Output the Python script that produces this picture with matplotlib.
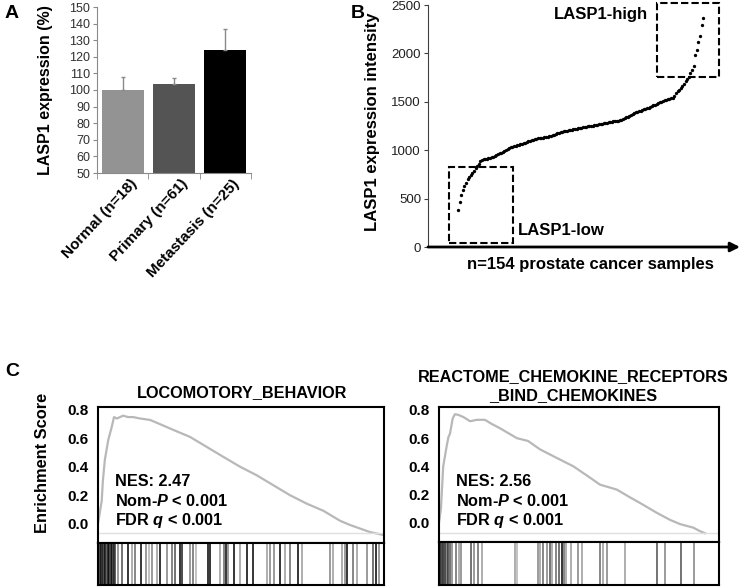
import matplotlib
matplotlib.use('Agg')
import numpy as np
import matplotlib.pyplot as plt
from matplotlib.patches import Rectangle
from matplotlib.transforms import ScaledTranslation

plt.rcParams['font.family'] = ['Liberation Sans', 'DejaVu Sans']
plt.rcParams['mathtext.fontset'] = 'custom'
plt.rcParams['mathtext.it'] = 'Liberation Sans:italic:bold'
plt.rcParams['mathtext.rm'] = 'Liberation Sans:bold'
plt.rcParams['mathtext.bf'] = 'Liberation Sans:bold'

# ---------------- data ----------------
a_labels = ['Normal (n=18)', 'Primary (n=61)', 'Metastasis (n=25)']
a_values = [100, 103.5, 124]
a_err = [8, 4, 12.5]
a_colors = ['#939393', '#545454', '#000000']

b_values = [382, 462, 540, 590, 630, 665, 700, 725, 748, 768, 790, 815, 840, 860, 885, 900,
            905, 910, 913, 918, 922, 926, 930,
            938, 948, 958, 966, 975, 985, 995, 1005, 1015, 1025, 1033,
            1038, 1043, 1048, 1053, 1058, 1063, 1068, 1073, 1079, 1085,
            1090, 1096, 1101, 1107, 1113, 1119,
            1122, 1125, 1127, 1130, 1132, 1134, 1137,
            1143, 1150, 1156, 1162, 1168, 1175, 1181, 1188,
            1191, 1195, 1198, 1202, 1205, 1208, 1212, 1215, 1219, 1222,
            1225, 1228, 1232, 1235, 1238, 1242, 1245, 1248, 1251, 1254, 1257,
            1260, 1264, 1267, 1271, 1274, 1277, 1281, 1284, 1288, 1291,
            1294, 1297, 1300, 1303, 1306, 1309,
            1317, 1325, 1333, 1341, 1348,
            1356, 1365, 1374, 1382, 1390, 1398,
            1404, 1410, 1417, 1423, 1429, 1435, 1441, 1447,
            1455, 1463, 1471, 1479, 1487, 1495, 1502,
            1508, 1514, 1520, 1525, 1530, 1535, 1540,
            1565, 1590, 1610, 1625, 1640,
            1660, 1685, 1710, 1735, 1760,
            1795, 1830, 1865,
            1985, 2040, 2120, 2175, 2295, 2362]
b_low_box = (-4.9, 38, 40.3, 792)      # x, y, width, height (sample index, intensity)
b_high_box = (124.9, 1759, 39.0, 765)

es1_x = [0.0, 0.013, 0.017, 0.024, 0.036, 0.048, 0.056, 0.066, 0.077, 0.088, 0.105, 0.123,
         0.147, 0.182, 0.217, 0.263, 0.322, 0.380, 0.438, 0.497, 0.555, 0.613, 0.671, 0.730,
         0.788, 0.846, 0.881, 0.916, 0.951, 0.997]
es1_y = [0.0, 0.16, 0.30, 0.45, 0.59, 0.68, 0.75, 0.74, 0.75, 0.76, 0.75, 0.75,
         0.74, 0.73, 0.70, 0.66, 0.61, 0.54, 0.47, 0.40, 0.34, 0.27, 0.20, 0.14,
         0.09, 0.02, -0.01, -0.035, -0.06, -0.08]
hits1 = [0.003, 0.007, 0.010, 0.014, 0.017, 0.021, 0.024, 0.028, 0.031, 0.035, 0.038, 0.042,
         0.045, 0.049, 0.052, 0.056, 0.059, 0.070, 0.084, 0.105, 0.119, 0.129, 0.152, 0.168,
         0.178, 0.189, 0.206, 0.217, 0.240, 0.257, 0.269, 0.287, 0.295, 0.322, 0.332, 0.344,
         0.386, 0.392, 0.427, 0.439, 0.448, 0.456, 0.474, 0.497, 0.521, 0.542, 0.591, 0.601,
         0.614, 0.636, 0.654, 0.671, 0.698, 0.713, 0.811, 0.822, 0.853, 0.864, 0.872, 0.893,
         0.906, 0.941, 0.962, 0.972, 0.983]
shades1 = [0.1, 0.3, 0.0, 0.2, 0.1, 0.3, 0.0, 0.2, 0.4, 0.1, 0.0, 0.3,
           0.2, 0.0, 0.3, 0.1, 0.2, 0.5, 0.3, 0.0, 0.6, 0.4, 0.0, 0.5,
           0.7, 0.5, 0.6, 0.0, 0.5, 0.4, 0.3, 0.0, 0.1, 0.5, 0.4, 0.7,
           0.0, 0.0, 0.6, 0.4, 0.0, 0.5, 0.0, 0.6, 0.0, 0.0, 0.6, 0.5,
           0.5, 0.0, 0.6, 0.4, 0.0, 0.6, 0.5, 0.6, 0.6, 0.5, 0.0, 0.4,
           0.6, 0.5, 0.3, 0.0, 0.5]

es2_x = [0.0, 0.007, 0.015, 0.028, 0.034, 0.039, 0.049, 0.057, 0.069, 0.087, 0.111, 0.135,
         0.164, 0.189, 0.218, 0.278, 0.318, 0.361, 0.420, 0.480, 0.539, 0.575, 0.635, 0.682,
         0.718, 0.778, 0.825, 0.861, 0.908, 0.932, 0.950]
es2_y = [0.0, 0.10, 0.40, 0.55, 0.61, 0.63, 0.74, 0.77, 0.765, 0.75, 0.72, 0.73,
         0.73, 0.70, 0.67, 0.60, 0.58, 0.52, 0.46, 0.40, 0.32, 0.27, 0.235, 0.18,
         0.14, 0.07, 0.02, -0.01, -0.035, -0.06, -0.075]
hits2 = [0.005, 0.009, 0.013, 0.016, 0.021, 0.027, 0.032, 0.039, 0.048, 0.061, 0.070, 0.079,
         0.116, 0.125, 0.139, 0.154, 0.270, 0.280, 0.352, 0.361, 0.371, 0.384, 0.395, 0.405,
         0.418, 0.430, 0.438, 0.448, 0.455, 0.471, 0.495, 0.511, 0.575, 0.586, 0.600, 0.663,
         0.779, 0.807, 0.863, 0.911]
shades2 = [0.0, 0.1, 0.0, 0.3, 0.1, 0.4, 0.2, 0.3, 0.5, 0.4, 0.6, 0.5,
           0.3, 0.5, 0.4, 0.6, 0.6, 0.7, 0.5, 0.6, 0.4, 0.5, 0.3, 0.6,
           0.4, 0.3, 0.0, 0.4, 0.6, 0.6, 0.5, 0.6, 0.4, 0.6, 0.5, 0.6,
           0.3, 0.5, 0.3, 0.5]

es_ticks = [0.0, 0.2, 0.4, 0.6, 0.8]
es_ticklabels = ['0.0', '0.2', '0.4', '0.6', '0.8']

# ---------------- figure ----------------
W, H = 742, 587
fig = plt.figure(figsize=(W / 100, H / 100), dpi=100)


def rect(l, t, r, b):
    return [l / W, 1 - b / H, (r - l) / W, (b - t) / H]


# Panel A
axA = fig.add_axes(rect(97, 7, 251, 173))
xa = np.arange(len(a_values))
axA.bar(xa, a_values, width=0.82, color=a_colors, zorder=2)
axA.errorbar(xa, a_values, yerr=[[0] * 3, a_err], fmt='none', ecolor='#8a8a8a',
             elinewidth=1, capsize=1.5, zorder=3)
axA.set_xlim(-0.5, 2.5)
axA.set_ylim(50, 150)
axA.set_yticks(np.arange(50, 151, 10))
for s in ['top', 'right']:
    axA.spines[s].set_visible(False)
for s in ['left', 'bottom']:
    axA.spines[s].set_color('#8a8a8a')
axA.tick_params(axis='y', length=3, color='#8a8a8a', labelsize=9, labelcolor='#303030', pad=2)
axA.set_xticks(xa)
axA.set_xticklabels(a_labels, rotation=47, ha='right', va='center',
                    rotation_mode='anchor', fontweight='bold', fontsize=11)
axA.tick_params(axis='x', which='major', length=0, pad=6)
axA.set_xticks([-0.5, 0.5, 1.5, 2.5], minor=True)
axA.tick_params(axis='x', which='minor', length=4, color='#8a8a8a')
for lbl in axA.get_xticklabels():
    lbl.set_transform(lbl.get_transform() + ScaledTranslation(0.12, 0, fig.dpi_scale_trans))
fig.text(46 / W, 1 - 90 / H, 'LASP1 expression (%)', rotation=90, ha='center', va='center',
         fontsize=11.5, fontweight='bold')
fig.text(12 / W, 1 - 14 / H, 'A', ha='center', va='center', fontsize=14, fontweight='bold')

# Panel B
axB = fig.add_axes(rect(428, 5, 740, 247))
idx = np.arange(1, len(b_values) + 1)
axB.plot(idx, b_values, 'o', ms=2.4, color='black', mec='black', mew=0)
axB.set_xlim(-17.7, 177)
axB.set_ylim(0, 2500)
axB.set_yticks(np.arange(0, 2501, 500))
for s in ['top', 'right', 'bottom']:
    axB.spines[s].set_visible(False)
axB.spines['left'].set_color('#404040')
axB.tick_params(axis='y', length=3, color='#404040', labelsize=9.5, labelcolor='#202020', pad=2)
axB.set_xticks([])
axB.annotate('', xy=(1.0, 0), xytext=(0, 0), xycoords='axes fraction',
             arrowprops=dict(arrowstyle='-|>', color='black', lw=2, mutation_scale=14,
                             shrinkA=0, shrinkB=0), annotation_clip=False)
for bx in (b_low_box, b_high_box):
    axB.add_patch(Rectangle((bx[0], bx[1]), bx[2], bx[3], fill=False, ec='black', lw=1.5,
                            ls=(0, (3.5, 1.5)), clip_on=False))
fig.text(648 / W, 1 - 15 / H, 'LASP1-high', ha='right', va='center', fontsize=12, fontweight='bold')
fig.text(518 / W, 1 - 230 / H, 'LASP1-low', ha='left', va='center', fontsize=12, fontweight='bold')
fig.text(590 / W, 1 - 264 / H, 'n=154 prostate cancer samples', ha='center', va='center',
         fontsize=12, fontweight='bold')
fig.text(372 / W, 1 - 122 / H, 'LASP1 expression intensity', rotation=90, ha='center',
         va='center', fontsize=12, fontweight='bold')
fig.text(358 / W, 1 - 13 / H, 'B', ha='center', va='center', fontsize=14, fontweight='bold')

# Panel C


def gsea(l, r, t, mid, b, xs, ys, hits, shades, nes):
    ax = fig.add_axes(rect(l, t, r, mid))
    ax.plot(xs, ys, color='#b8b8b8', lw=1.6)
    ax.axhline(-0.07, color='#e0e0e0', lw=1)
    ax.set_xlim(0, 1)
    ax.set_ylim(-0.137, 0.821)
    ax.set_xticks([])
    ax.set_yticks(es_ticks)
    ax.set_yticklabels(es_ticklabels, fontweight='bold', fontsize=11)
    ax.tick_params(axis='y', length=0, pad=7)
    for s in ax.spines.values():
        s.set_linewidth(1.5)
    ys_txt = [482, 501, 520]
    lines = ['NES: ' + nes, 'Nom-$P$ < 0.001', 'FDR $q$ < 0.001']
    for yy, tx in zip(ys_txt, lines):
        fig.text((l + 17) / W, 1 - yy / H, tx, ha='left', va='center', fontsize=11.7,
                 fontweight='bold')
    axh = fig.add_axes(rect(l, mid, r, b))
    axh.vlines(hits, 0, 1, colors=[str(s) for s in shades], lw=1.1)
    axh.set_xlim(0, 1)
    axh.set_ylim(0, 1)
    axh.set_xticks([])
    axh.set_yticks([])
    for s in axh.spines.values():
        s.set_linewidth(1.5)
    return ax


gsea(98, 384, 407, 543, 585, es1_x, es1_y, hits1, shades1, '2.47')
gsea(439, 719, 407, 542, 585, es2_x, es2_y, hits2, shades2, '2.56')

fig.text(242 / W, 1 - 393 / H, 'LOCOMOTORY_BEHAVIOR', ha='center', va='center',
         fontsize=11.7, fontweight='bold')
fig.text(573 / W, 1 - 377 / H, 'REACTOME_CHEMOKINE_RECEPTORS', ha='center', va='center',
         fontsize=11.7, fontweight='bold')
fig.text(573 / W, 1 - 396 / H, '_BIND_CHEMOKINES', ha='center', va='center',
         fontsize=11.7, fontweight='bold')
fig.text(43 / W, 1 - 463 / H, 'Enrichment Score', rotation=90, ha='center', va='center',
         fontsize=11.8, fontweight='bold')
fig.text(12 / W, 1 - 371 / H, 'C', ha='center', va='center', fontsize=14, fontweight='bold')

fig.savefig('out.png', dpi=100)
